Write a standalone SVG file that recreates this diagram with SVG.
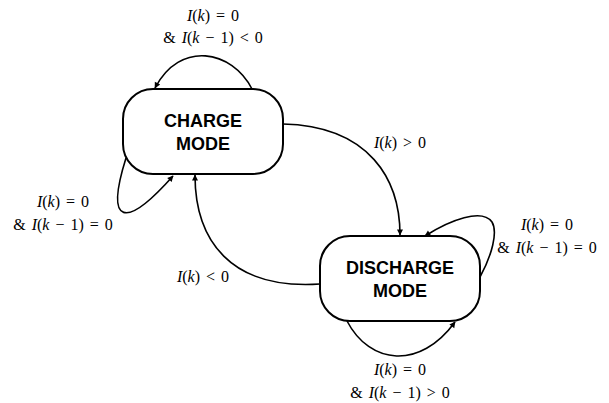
<svg xmlns="http://www.w3.org/2000/svg" width="609" height="403" viewBox="0 0 609 403">
<style>
.box{fill:#fff;stroke:#000;stroke-width:2}
.nt{font-family:"Liberation Sans",Arial,sans-serif;font-weight:bold;font-size:18px;text-anchor:middle;fill:#000}
.lb{font-family:"Liberation Serif","Times New Roman",serif;font-size:16px;text-anchor:middle;fill:#000;word-spacing:2px}
.it{font-style:italic}
.e{fill:none;stroke:#000;stroke-width:1.6;marker-end:url(#ah)}
</style>
<defs>
<marker id="ah" viewBox="0 0 10 10" refX="9" refY="5" markerWidth="6" markerHeight="6" orient="auto" markerUnits="userSpaceOnUse" overflow="visible">
<path d="M0,0 L10,5 L0,10 z" fill="#000"/>
</marker>
</defs>
<g id="connectors">
<path class="e" d="M252,89 C232,50 180,40 155,88"/>
<path class="e" d="M283,124 C370,126 400,180 400,235"/>
<path class="e" d="M320,284 C230,290 195,240 195,175"/>
<path class="e" d="M126,158 C105,225 125,230 173,176"/>
<path class="e" d="M480,277 C492,255 498,232 492,222 C482,208 450,220 425,236"/>
<path class="e" d="M347,321 C370,365 420,370 455,322"/>
</g>
<g id="charge">
<rect class="box" x="123" y="89" width="160" height="85" rx="30"/>
<text class="nt" x="203" y="127">CHARGE</text>
<text class="nt" x="203" y="150">MODE</text>
</g>
<g id="discharge">
<rect class="box" x="320" y="236" width="160" height="85" rx="30"/>
<text class="nt" x="400" y="274">DISCHARGE</text>
<text class="nt" x="400" y="297">MODE</text>
</g>
<g id="labels">
<text class="lb" x="213" y="21"><tspan class="it">I</tspan>(<tspan class="it">k</tspan>) = 0</text>
<text class="lb" x="213" y="43">&amp; <tspan class="it">I</tspan>(<tspan class="it">k</tspan> − 1) &lt; 0</text>
<text class="lb" x="400" y="148"><tspan class="it">I</tspan>(<tspan class="it">k</tspan>) &gt; 0</text>
<text class="lb" x="547" y="230"><tspan class="it">I</tspan>(<tspan class="it">k</tspan>) = 0</text>
<text class="lb" x="547" y="253">&amp; <tspan class="it">I</tspan>(<tspan class="it">k</tspan> − 1) = 0</text>
<text class="lb" x="63" y="207"><tspan class="it">I</tspan>(<tspan class="it">k</tspan>) = 0</text>
<text class="lb" x="63" y="230">&amp; <tspan class="it">I</tspan>(<tspan class="it">k</tspan> − 1) = 0</text>
<text class="lb" x="203" y="282"><tspan class="it">I</tspan>(<tspan class="it">k</tspan>) &lt; 0</text>
<text class="lb" x="400" y="375"><tspan class="it">I</tspan>(<tspan class="it">k</tspan>) = 0</text>
<text class="lb" x="400" y="398">&amp; <tspan class="it">I</tspan>(<tspan class="it">k</tspan> − 1) &gt; 0</text>
</g>
</svg>
